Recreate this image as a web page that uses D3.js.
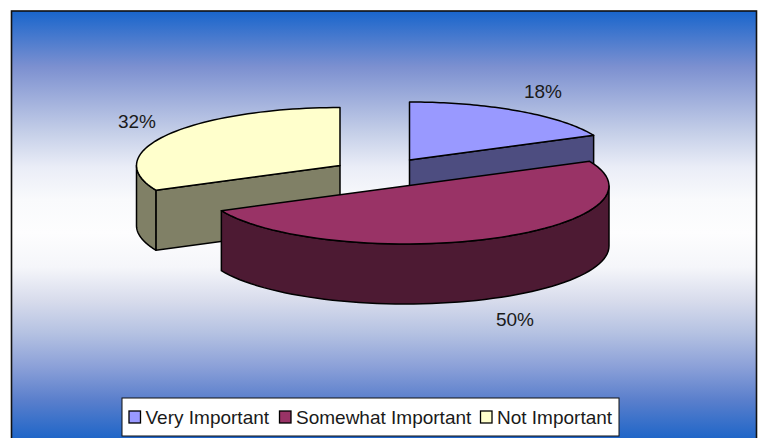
<!DOCTYPE html>
<html>
<head>
<meta charset="utf-8">
<script src="https://cdn.jsdelivr.net/npm/d3@7"></script>
<style>
html, body { margin: 0; padding: 0; background: #fff; }
svg { display: block; font-family: "Liberation Sans", Arial, sans-serif; }
</style>
</head>
<body>
<svg id="chart" width="761" height="438"></svg>
<script>
// Survey shares, in legend order
const categories = ["Very Important", "Somewhat Important", "Not Important"];
const shares = [18, 50, 32];
const topColors = ["#9999ff", "#993366", "#ffffcc"];
const sideColors = ["#4d4d80", "#4d1a33", "#808066"];
const gradientStops = [
  [0.002, "#1a66cc"], [0.13, "#7c90d0"], [0.284, "#c5cfe8"], [0.364, "#eaedf7"],
  [0.44, "#f9fafc"], [0.517, "#fdfdfe"], [0.597, "#f5f6fa"], [0.674, "#d8dcec"],
  [0.75, "#b5c2e2"], [0.83, "#8ba0d8"], [0.907, "#5a7fcc"], [0.995, "#2066c8"]
];

const svg = d3.select("#chart");
const frame = { x: 11.5, y: 11, w: 745, h: 429 };

// Backdrop panel with vertical gradient, lightest through the middle
const grad = svg.append("defs").append("linearGradient")
  .attr("id", "panelFill").attr("x1", 0).attr("x2", 0).attr("y1", 0).attr("y2", 1);
grad.selectAll("stop").data(gradientStops).join("stop")
  .attr("offset", d => d[0]).attr("stop-color", d => d[1]);
svg.append("rect")
  .attr("x", frame.x).attr("y", frame.y).attr("width", frame.w).attr("height", frame.h)
  .attr("fill", "url(#panelFill)").attr("stroke", "#111").attr("stroke-width", 1.6);

// Pie layout in drawing order, clockwise from twelve o'clock
const arcs = d3.pie().sort(null).value(d => d)(shares);

// Tilted-disc projection: unit circle to screen ellipse
const rx = 203.5, ry = 58, depth = 60;
const xs = d3.scaleLinear().domain([-1, 1]).range([-rx, rx]);
const ys = d3.scaleLinear().domain([-1, 1]).range([-ry, ry]);
// Exploded slice centres on screen
const centers = [[409.5, 160], [405.5, 186], [340, 165.5]];

const rim = (i, a, drop = 0) => [
  centers[i][0] + xs(Math.sin(a)),
  centers[i][1] + ys(-Math.cos(a)) + drop
];
const angleRange = (a0, a1) => d3.range(0, 61).map(k => a0 + (a1 - a0) * k / 60);
const path = d3.line();
const pieGroup = svg.append("g").attr("stroke", "#000").attr("stroke-width", 1.5)
  .attr("stroke-linejoin", "round");

const drawWall = (i, a0, a1) => {
  const upper = angleRange(a0, a1).map(a => rim(i, a));
  const lower = angleRange(a1, a0).map(a => rim(i, a, depth));
  pieGroup.append("path").attr("d", path(upper.concat(lower)) + "Z").attr("fill", sideColors[i]);
};
const drawCut = (i, a) => {
  const tip = rim(i, a);
  const c = centers[i];
  pieGroup.append("path")
    .attr("d", path([c, tip, [tip[0], tip[1] + depth], [c[0], c[1] + depth]]) + "Z")
    .attr("fill", sideColors[i]);
};
const drawTop = (i, a0, a1) => {
  pieGroup.append("path")
    .attr("d", path([centers[i]].concat(angleRange(a0, a1).map(a => rim(i, a)))) + "Z")
    .attr("fill", topColors[i]);
};

// Back slices first, front slice last so it overlaps their walls
const [veryA, somewhatA, notA] = arcs;
drawCut(0, veryA.endAngle);
drawTop(0, veryA.startAngle, veryA.endAngle);

drawCut(2, notA.startAngle);
drawWall(2, notA.startAngle, 1.5 * Math.PI);
drawTop(2, notA.startAngle, notA.endAngle);

drawWall(1, Math.PI / 2, somewhatA.endAngle);
drawTop(1, somewhatA.startAngle, somewhatA.endAngle);

// Percentage labels
const labelPos = [[543, 98], [515, 326], [137, 128]];
svg.append("g").selectAll("text").data(shares).join("text")
  .attr("x", (d, i) => labelPos[i][0]).attr("y", (d, i) => labelPos[i][1])
  .attr("text-anchor", "middle").attr("font-size", 19).attr("fill", "#1a1a1a")
  .text(d => d + "%");

// Legend
const legendBox = { x: 122, y: 398, w: 497, h: 38 };
const legend = svg.append("g");
legend.append("rect")
  .attr("x", legendBox.x).attr("y", legendBox.y).attr("width", legendBox.w).attr("height", legendBox.h)
  .attr("fill", "#fff").attr("stroke", "#111").attr("stroke-width", 1);
const swatchX = [129, 279.5, 480.5];
const textX = [145.5, 296, 497];
const entries = legend.selectAll("g").data(categories).join("g");
entries.append("rect")
  .attr("x", (d, i) => swatchX[i]).attr("y", 411).attr("width", 11.5).attr("height", 12)
  .attr("fill", (d, i) => topColors[i]).attr("stroke", "#000").attr("stroke-width", 1.3);
entries.append("text")
  .attr("x", (d, i) => textX[i]).attr("y", 423.5)
  .attr("font-size", 19).attr("fill", "#1a1a1a").text(d => d);
</script>
</body>
</html>
